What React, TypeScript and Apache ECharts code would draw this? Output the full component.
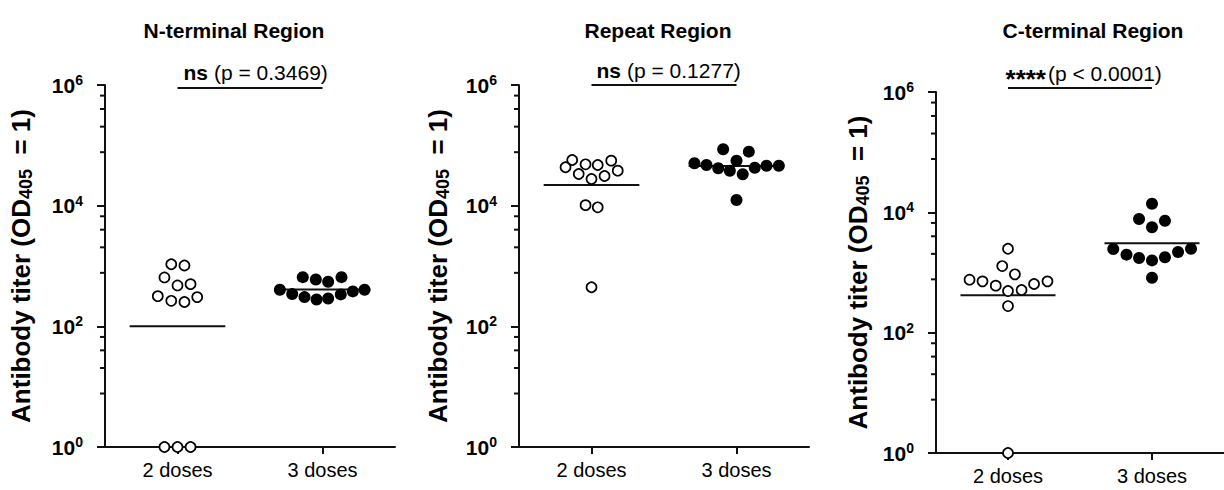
import React, { useEffect, useRef } from "react";
import * as echarts from "echarts";

const FONT = "'Liberation Sans', Arial, Helvetica, sans-serif";
const INK = "#111";

const panelTitles = ["N-terminal Region", "Repeat Region", "C-terminal Region"];
const groupLabels = ["2 doses", "3 doses"];
const majorTicks = [1, 1e2, 1e4, 1e6];
const minorTicks = [7.7, 20.4, 40, 66.7, 770, 2040, 4000, 6670, 77000, 204000, 400000, 667000];

// N-terminal region
const nTerm2Values = [1070, 1020, 646, 476, 500, 316, 265, 253, 305, 1, 1, 1];
const nTerm2Jitter = [-0.043, 0.048, -0.09, 0, 0.09, -0.136, -0.043, 0.048, 0.136, -0.09, 0, 0.09];
const nTerm3Values = [404, 342, 653, 305, 598, 279, 548, 290, 653, 338, 379, 404];
const nTerm3Jitter = [-0.294, -0.209, -0.136, -0.124, -0.046, -0.041, 0.039, 0.039, 0.131, 0.126, 0.209, 0.29];
// Repeat region
const rep2Values = [57200, 43300, 48500, 47200, 55700, 38000, 33500, 31000, 27700, 10200, 9400, 444];
const rep2Jitter = [-0.133, -0.179, -0.041, 0.043, 0.136, 0.181, -0.088, 0.09, 0, -0.041, 0.043, 0];
const rep3Values = [86000, 78500, 55700, 50400, 47200, 41600, 38000, 33100, 42600, 46000, 46000, 12400];
const rep3Jitter = [-0.092, 0.085, 0, -0.29, -0.207, -0.126, -0.046, 0.043, 0.126, 0.207, 0.292, 0];
// C-terminal region
const cTerm2Values = [2480, 1280, 933, 759, 713, 604, 492, 512, 644, 713, 277, 1];
const cTerm2Jitter = [0, -0.04, 0.048, -0.267, -0.177, -0.085, 0, 0.094, 0.181, 0.274, 0, 0];
const cTerm3Values = [13900, 7740, 7260, 5640, 2460, 1980, 1740, 1590, 1790, 2190, 2480, 820];
const cTerm3Jitter = [0, -0.09, 0.09, 0, -0.269, -0.177, -0.09, 0, 0.09, 0.181, 0.271, 0];

const means2 = [100, 22000, 418];
const means3 = [408, 45500, 3060];

const sigStars = ["ns", "ns", "****"];
const sigP = ["(p = 0.3469)", "(p = 0.1277)", "(p < 0.0001)"];
const sigLevels = [8.9e5, 1e6, 1.16e6];

const values2 = [nTerm2Values, rep2Values, cTerm2Values];
const jitter2 = [nTerm2Jitter, rep2Jitter, cTerm2Jitter];
const values3 = [nTerm3Values, rep3Values, cTerm3Values];
const jitter3 = [nTerm3Jitter, rep3Jitter, cTerm3Jitter];

const grids = [
  { left: 105, top: 85, width: 290, height: 362 },
  { left: 519, top: 85, width: 290, height: 362 },
  { left: 936, top: 92, width: 290, height: 361 },
];
const nameGaps = [70, 67, 64];
const titleCenters = [229, 653, 1088];
// split point between the bold marker and the p-value text
const sigTextPos = [
  { x: 208, y: 72 },
  { x: 621, y: 70 },
  { x: 1046, y: 73 },
];

function buildTextGraphics() {
  const graphic: any[] = [];
  for (let i = 0; i < 3; i++) {
    const isStars = sigStars[i].startsWith("*");
    graphic.push({
      type: "text",
      x: sigTextPos[i].x,
      y: sigTextPos[i].y + (isStars ? 6 : 0),
      style: {
        text: sigStars[i],
        align: "right",
        verticalAlign: "middle",
        fontFamily: FONT,
        fontSize: isStars ? 26 : 21,
        fontWeight: "bold",
        fill: "#000",
      },
    });
    graphic.push({
      type: "text",
      x: sigTextPos[i].x + (isStars ? 2 : 6),
      y: sigTextPos[i].y,
      style: {
        text: sigP[i],
        align: "left",
        verticalAlign: "middle",
        fontFamily: FONT,
        fontSize: 21,
        fill: "#000",
      },
    });
  }
  return graphic;
}

function buildOption() {
  const xAxis: any[] = [];
  const yAxis: any[] = [];
  const series: any[] = [];
  const title: any[] = [];

  for (let i = 0; i < 3; i++) {
    title.push({
      text: panelTitles[i],
      left: titleCenters[i],
      top: 15,
      textAlign: "center",
      textStyle: { fontFamily: FONT, fontSize: 21, fontWeight: "bold", color: "#000" },
    });
    xAxis.push({
      type: "value",
      gridIndex: i,
      min: -0.5,
      max: 1.5,
      axisLine: { show: true, onZero: false, lineStyle: { color: INK, width: 2 } },
      axisTick: { show: true, customValues: [0, 1], length: 7, lineStyle: { color: INK, width: 2 } },
      axisLabel: {
        customValues: [0, 1],
        formatter: (v: number) => groupLabels[Math.round(v)] ?? "",
        fontFamily: FONT,
        fontSize: 20,
        color: "#000",
        margin: 13,
      },
      splitLine: { show: false },
    });
    yAxis.push({
      type: "log",
      logBase: 10,
      gridIndex: i,
      min: 1,
      max: 1e6,
      interval: 2,
      position: "left",
      axisLine: { show: true, onZero: false, lineStyle: { color: INK, width: 2 } },
      axisTick: { show: true, customValues: majorTicks, length: 8, lineStyle: { color: INK, width: 2 } },
      axisLabel: {
        margin: 22,
        customValues: majorTicks,
        formatter: (v: number) => `{b|10}{s|${Math.round(Math.log10(v))}}`,
        rich: {
          b: { fontFamily: FONT, fontSize: 21, fontWeight: "bold", color: "#000", lineHeight: 24 },
          s: { fontFamily: FONT, fontSize: 14, fontWeight: "bold", color: "#000", lineHeight: 14, verticalAlign: "top" },
        },
      },
      splitLine: { show: false },
      name: "{a|Antibody titer (OD}{sub|405}{a|  = 1)}",
      nameLocation: "middle",
      nameGap: nameGaps[i],
      nameRotate: 90,
      nameTextStyle: {
        rich: {
          a: { fontFamily: FONT, fontSize: 26, fontWeight: "bold", color: "#000", lineHeight: 29 },
          sub: { fontFamily: FONT, fontSize: 18, fontWeight: "bold", color: "#000", lineHeight: 18, verticalAlign: "bottom" },
        },
      },
    });

    series.push({
      type: "line",
      xAxisIndex: i,
      yAxisIndex: i,
      data: [[-0.33, means2[i]], [0.33, means2[i]]],
      symbol: "none",
      lineStyle: { color: INK, width: 2 },
      z: 2,
    });
    series.push({
      type: "line",
      xAxisIndex: i,
      yAxisIndex: i,
      data: [[0.67, means3[i]], [1.33, means3[i]]],
      symbol: "none",
      lineStyle: { color: INK, width: 2 },
      z: 2,
    });
    series.push({
      type: "line",
      xAxisIndex: i,
      yAxisIndex: i,
      data: [[0, sigLevels[i]], [1, sigLevels[i]]],
      symbol: "none",
      clip: false,
      lineStyle: { color: INK, width: 2 },
      z: 2,
    });
    series.push({
      type: "scatter",
      xAxisIndex: i,
      yAxisIndex: i,
      data: values2[i].map((v, k) => [jitter2[i][k], v]),
      symbol: "circle",
      symbolSize: 10,
      clip: false,
      itemStyle: { color: "#fff", borderColor: "#000", borderWidth: 1.7, opacity: 1 },
      z: 5,
    });
    series.push({
      type: "scatter",
      xAxisIndex: i,
      yAxisIndex: i,
      data: values3[i].map((v, k) => [1 + jitter3[i][k], v]),
      symbol: "circle",
      symbolSize: 12,
      clip: false,
      itemStyle: { color: "#000", opacity: 1 },
      z: 5,
    });
  }

  return {
    animation: false,
    backgroundColor: "#fff",
    title,
    grid: grids,
    xAxis,
    yAxis,
    series,
    graphic: buildTextGraphics(),
  };
}

export default function App() {
  const ref = useRef<HTMLDivElement>(null);
  useEffect(() => {
    if (!ref.current) return;
    const chart = echarts.init(ref.current, null, { renderer: "svg" });
    chart.setOption(buildOption() as any);
    // minor ticks of each log axis, positioned through the axis scale
    const tickMarks: any[] = [];
    for (let i = 0; i < 3; i++) {
      for (const v of minorTicks) {
        const p = chart.convertToPixel({ gridIndex: i } as any, [-0.5, v]) as number[];
        if (!p || !isFinite(p[0]) || !isFinite(p[1])) continue;
        tickMarks.push({
          type: "line",
          silent: true,
          z: 10,
          shape: { x1: p[0] - 5, y1: p[1], x2: p[0] - 0.5, y2: p[1] },
          style: { stroke: INK, lineWidth: 2 },
        });
      }
    }
    chart.setOption({ graphic: [...buildTextGraphics(), ...tickMarks] } as any);
    return () => chart.dispose();
  }, []);
  return (
    <div
      ref={ref}
      style={{ position: "fixed", left: 0, top: 0, width: 1224, height: 490 }}
    />
  );
}
